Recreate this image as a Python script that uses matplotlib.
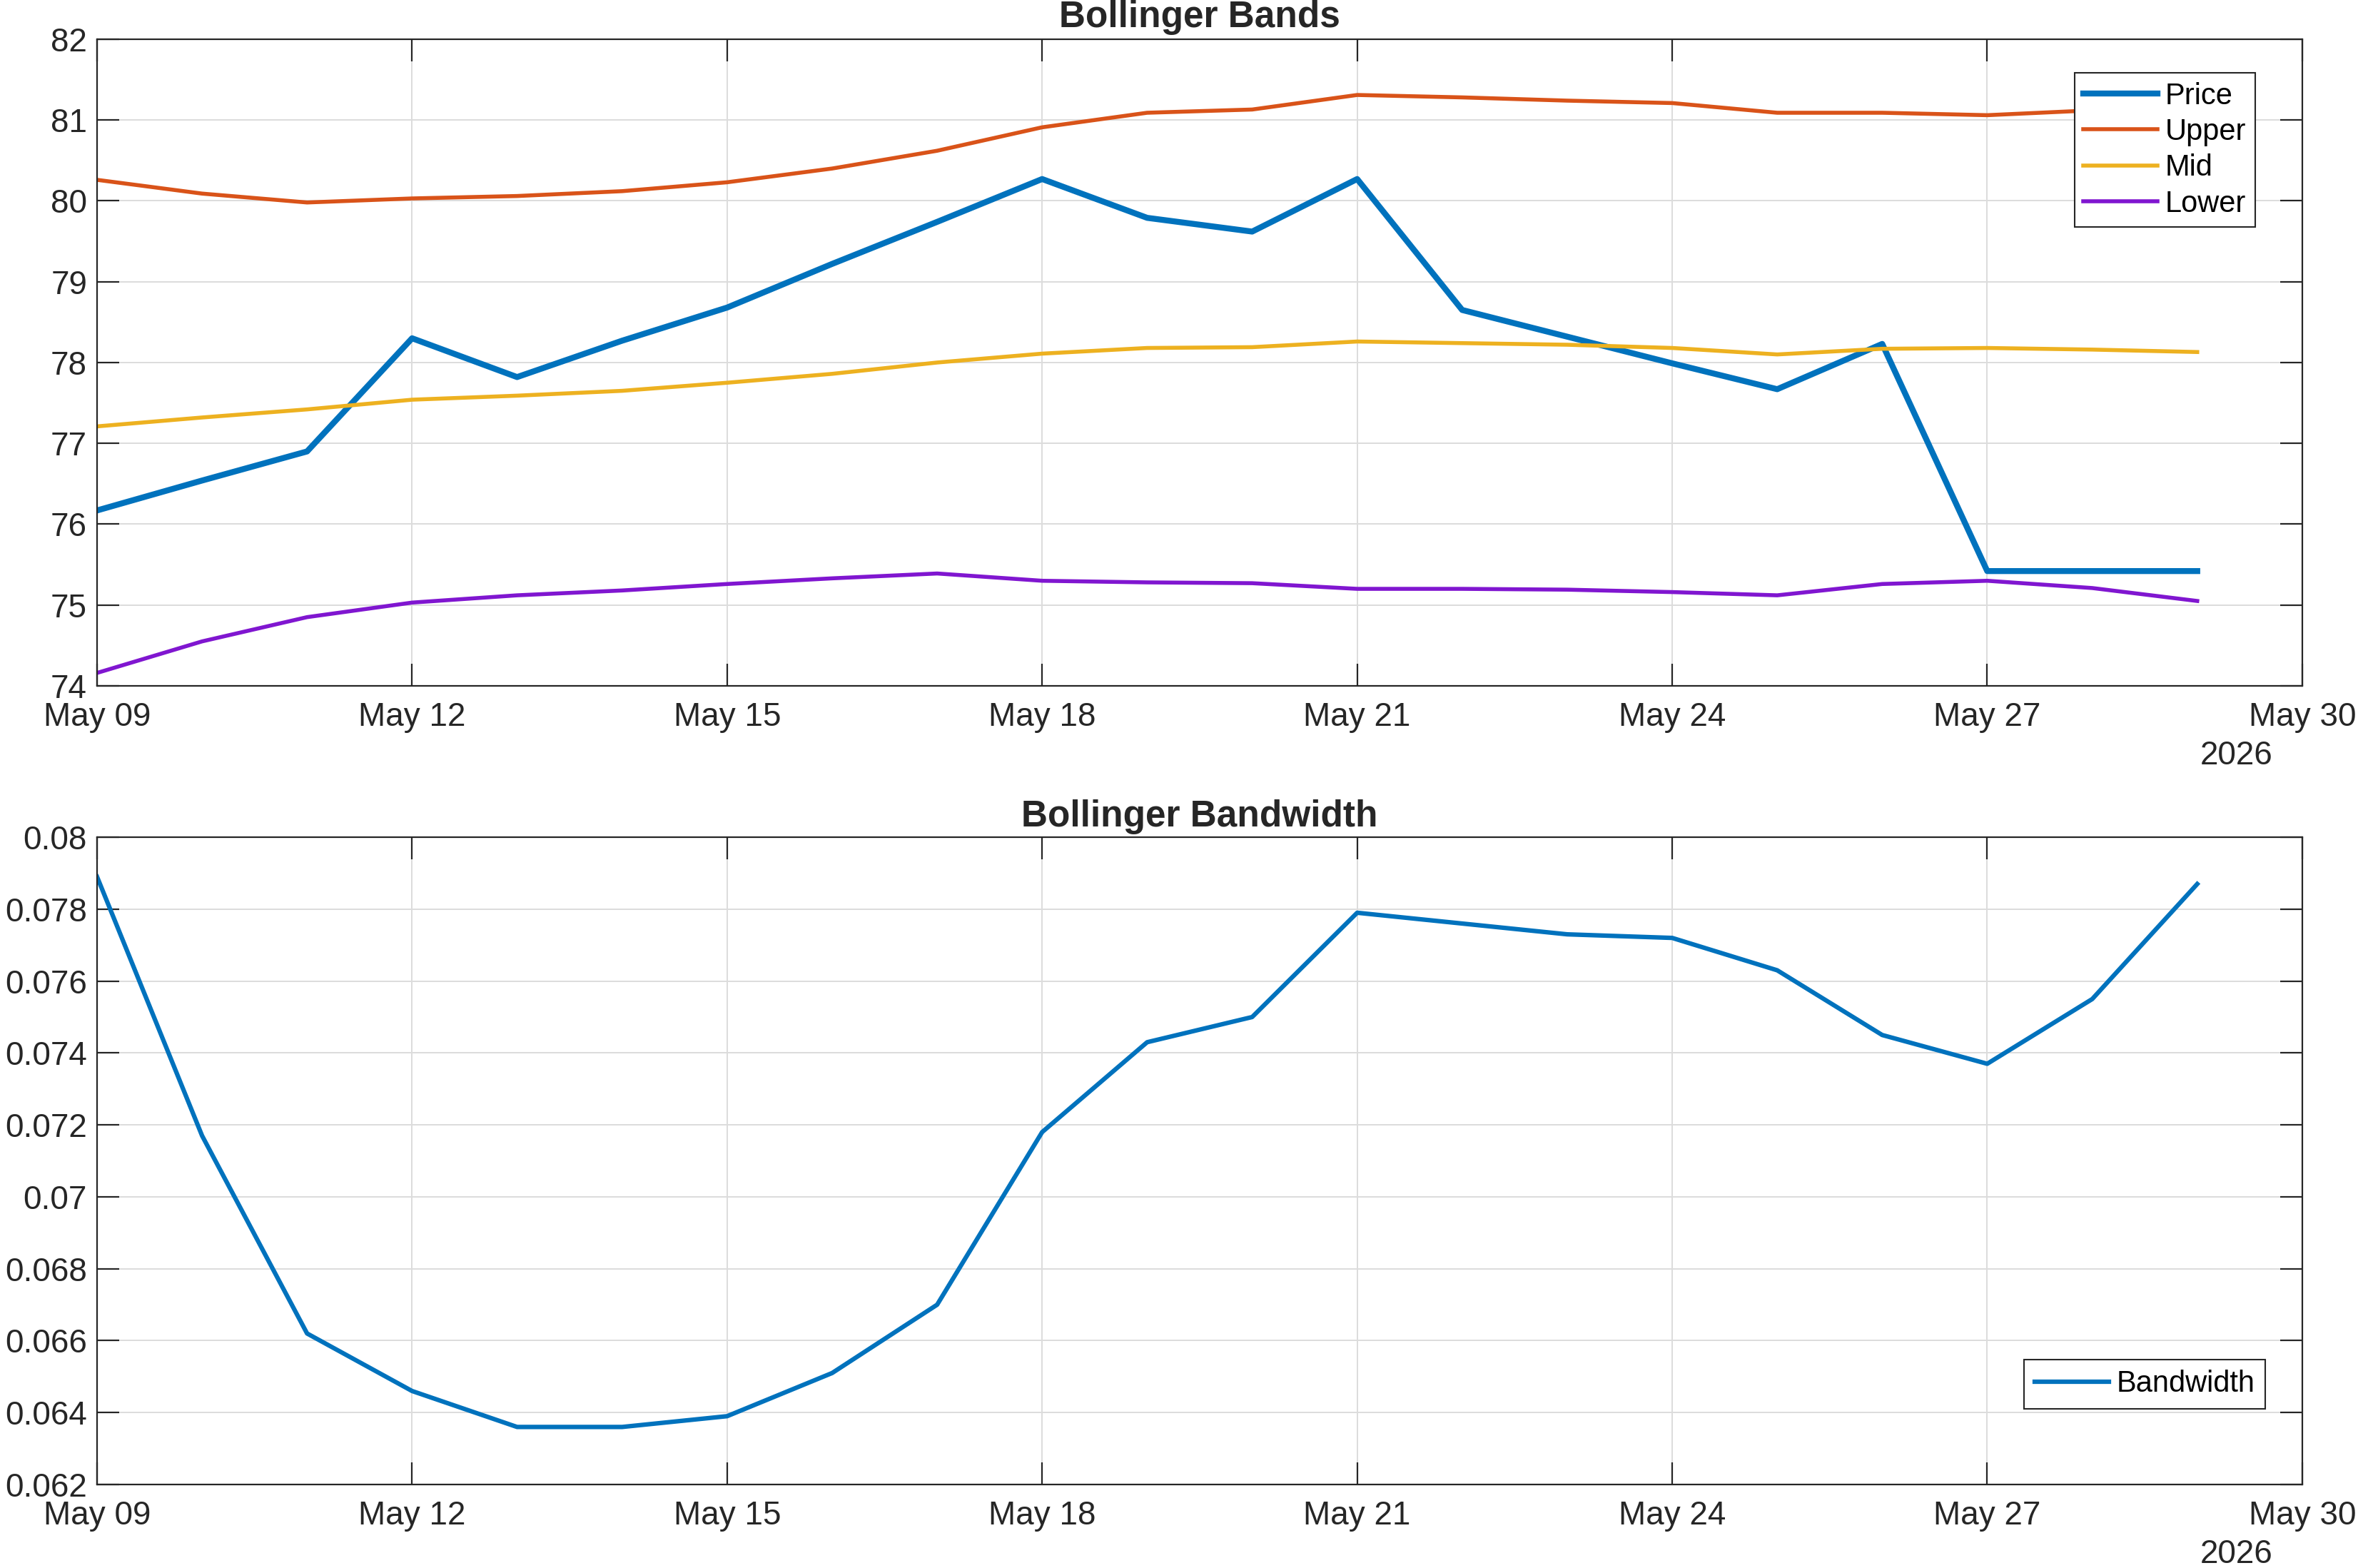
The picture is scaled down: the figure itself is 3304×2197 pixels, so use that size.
import matplotlib
matplotlib.use('Agg')
import matplotlib.pyplot as plt
import matplotlib.dates as mdates
import pandas as pd

plt.rcParams['font.family'] = ['Liberation Sans', 'DejaVu Sans']

# daily data, May 09 .. May 29 2026
dates = pd.date_range('2026-05-09', '2026-05-29', freq='D')

price = [76.17, 76.54, 76.90, 78.30, 77.82, 78.27, 78.68, 79.22, 79.74, 80.27, 79.79,
         79.62, 80.27, 78.65, 78.32, 77.99, 77.67, 78.23, 75.42, 75.42, 75.42]
upper = [80.26, 80.09, 79.98, 80.03, 80.06, 80.12, 80.23, 80.40, 80.62, 80.91, 81.09,
         81.13, 81.31, 81.28, 81.24, 81.21, 81.09, 81.09, 81.06, 81.12, 81.19]
mid = [77.21, 77.32, 77.42, 77.54, 77.59, 77.65, 77.75, 77.86, 78.00, 78.11, 78.18,
       78.19, 78.26, 78.24, 78.22, 78.18, 78.10, 78.17, 78.18, 78.16, 78.13]
lower = [74.16, 74.55, 74.85, 75.03, 75.12, 75.18, 75.26, 75.33, 75.39, 75.30, 75.28,
         75.27, 75.20, 75.20, 75.19, 75.16, 75.12, 75.26, 75.30, 75.21, 75.05]
bandwidth = [0.0789, 0.0717, 0.0662, 0.0646, 0.0636, 0.0636, 0.0639, 0.0651, 0.0670,
             0.0718, 0.0743, 0.0750, 0.0779, 0.0776, 0.0773, 0.0772, 0.0763, 0.0745,
             0.0737, 0.0755, 0.0787]

xstart = pd.Timestamp('2026-05-09')
xend = pd.Timestamp('2026-05-30')
xticks = pd.date_range(xstart, xend, freq='3D')

axcol = '#262626'

fig = plt.figure(figsize=(33.04, 21.97), dpi=100)
ax1 = fig.add_axes([0.04116, 0.5626, 0.9352, 0.4124])
ax2 = fig.add_axes([0.04116, 0.05325, 0.9352, 0.4128])


def style(ax):
    ax.set_xlim(xstart, xend)
    ax.set_xticks(xticks)
    ax.xaxis.set_major_formatter(mdates.DateFormatter('%b %d'))
    ax.grid(True, color='#dcdcdc', linewidth=1.4)
    ax.set_axisbelow(True)
    ax.tick_params(direction='in', length=22, width=1.6, colors=axcol,
                   labelsize=33, top=True, right=True)
    ax.tick_params(axis='x', pad=16)
    ax.tick_params(axis='y', pad=10)
    for s in ax.spines.values():
        s.set_color(axcol)
        s.set_linewidth(1.6)
    ax.text(0.97, -0.108, '2026', transform=ax.transAxes, ha='center', va='center',
            fontsize=33, color=axcol)


ax1.plot(dates, price, color='#0072BD', lw=6, label='Price')
ax1.plot(dates, upper, color='#D95319', lw=4, label='Upper')
ax1.plot(dates, mid, color='#EDB120', lw=4, label='Mid')
ax1.plot(dates, lower, color='#8016D0', lw=4, label='Lower')
ax1.set_ylim(74, 82)
ax1.set_yticks(range(74, 83))
style(ax1)
ax1.set_title('Bollinger Bands', fontsize=37, fontweight='bold', color=axcol,
              y=1.0, pad=12)
leg = ax1.legend(loc='upper right', bbox_to_anchor=(0.9786, 0.948), borderaxespad=0,
                 fontsize=30, frameon=True, fancybox=False, framealpha=1,
                 edgecolor=axcol, handlelength=2.5, handletextpad=0.25,
                 labelspacing=0.25, borderpad=0.3)
leg.get_frame().set_linewidth(1.5)

ax2.plot(dates, bandwidth, color='#0072BD', lw=4.5, label='Bandwidth')
ax2.set_ylim(0.062, 0.08)
ax2.set_yticks([0.062, 0.064, 0.066, 0.068, 0.07, 0.072, 0.074, 0.076, 0.078, 0.08])
ax2.set_yticklabels(['0.062', '0.064', '0.066', '0.068', '0.07', '0.072', '0.074',
                     '0.076', '0.078', '0.08'])
style(ax2)
ax2.set_title('Bollinger Bandwidth', fontsize=37, fontweight='bold', color=axcol,
              y=1.0, pad=11)
leg2 = ax2.legend(loc='lower right', bbox_to_anchor=(0.9832, 0.1169), borderaxespad=0,
                  fontsize=30, frameon=True, fancybox=False, framealpha=1,
                  edgecolor=axcol, handlelength=2.5, handletextpad=0.25,
                  borderpad=0.35)
leg2.get_frame().set_linewidth(1.5)

fig.savefig('out.png', dpi=100)
